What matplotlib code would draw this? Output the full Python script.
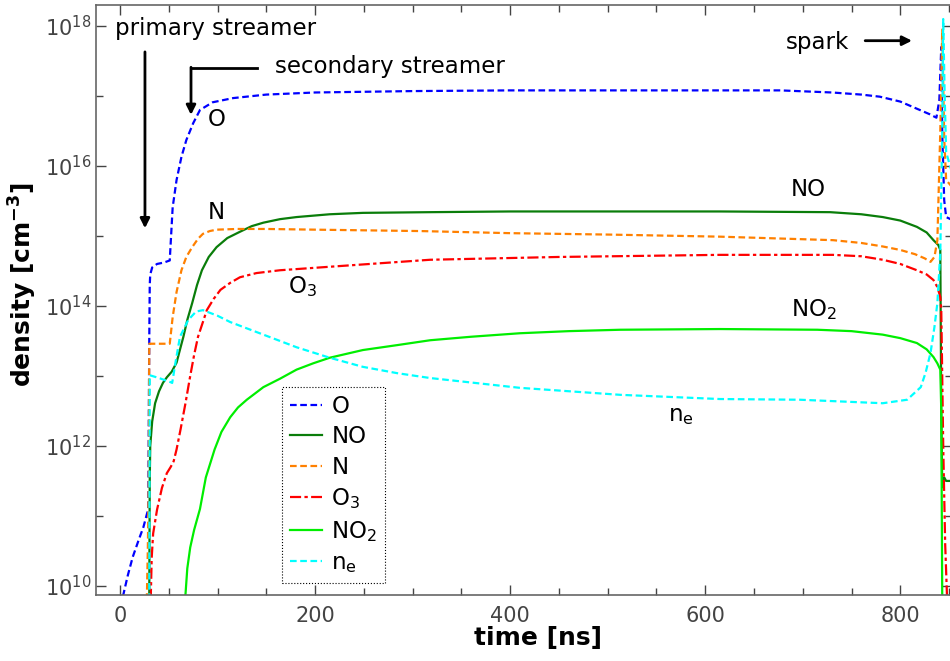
import numpy as np
import matplotlib
matplotlib.use('Agg')
import matplotlib.pyplot as plt
from matplotlib.ticker import FixedLocator, NullFormatter

# densites : temps en ns, log10(densite en cm^-3)
t_O = [3, 8, 13, 19, 24, 29, 30, 30.5, 31, 33, 38, 45, 51, 54, 58, 63, 68, 75, 82, 95, 116, 150, 200,
       300, 400, 500, 600, 677, 730, 760, 779, 800, 820, 830, 837, 840, 842, 843, 845, 847, 853]
log_O = [9.85, 10.15, 10.41, 10.65, 10.84, 11.1, 13.5, 14.3, 14.45, 14.55, 14.6, 14.62, 14.65, 15.41, 15.8,
         16.13, 16.37, 16.61, 16.8, 16.91, 16.97, 17.02, 17.05, 17.07, 17.08, 17.08, 17.08, 17.08, 17.05,
         17.02, 16.99, 16.92, 16.8, 16.74, 16.69, 16.94, 17.7, 16.47, 15.51, 15.27, 15.23]

t_NO = [30, 30.5, 31, 33, 36, 40, 44, 48, 53, 58, 61, 65, 69, 74, 79, 84, 91, 99, 110, 123, 135, 147,
        164, 181, 215, 249, 318, 400, 500, 615, 728, 760, 782, 800, 817, 827, 834, 839, 841, 842, 843,
        845, 847, 853]
log_NO = [9.8, 11.5, 12.0, 12.35, 12.61, 12.78, 12.9, 12.98, 13.06, 13.19, 13.35, 13.56, 13.8, 14.04,
          14.3, 14.51, 14.7, 14.84, 14.97, 15.06, 15.14, 15.19, 15.24, 15.27, 15.31, 15.33, 15.34, 15.35,
          15.35, 15.35, 15.34, 15.31, 15.27, 15.22, 15.13, 15.05, 14.94, 14.87, 14.8, 12.5, 11.41, 11.55,
          11.5, 11.5]

t_N = [27.5, 28.5, 29.5, 30, 40, 51, 54, 58, 63, 68, 74, 80, 85, 92, 99, 120, 150, 200, 308, 400, 500,
       615, 731, 760, 782, 800, 815, 825, 831, 835, 838, 841, 843, 845, 847, 853]
log_N = [9.8, 10.5, 11.5, 13.46, 13.46, 13.46, 13.84, 14.2, 14.51, 14.7, 14.84, 14.96, 15.03, 15.07,
         15.09, 15.1, 15.1, 15.09, 15.07, 15.04, 15.02, 14.99, 14.94, 14.9, 14.85, 14.8, 14.74, 14.68,
         14.63, 14.7, 14.94, 16.5, 17.95, 16.4, 15.8, 15.7]

t_O3 = [31.5, 32.5, 34, 38, 43, 48, 52, 55, 58, 62, 67, 72, 76, 80, 85, 89, 96, 103, 113, 123, 140, 164,
        215, 318, 450, 615, 731, 760, 782, 800, 817, 827, 834, 838, 841, 842, 844, 846, 848]
log_O3 = [9.8, 10.4, 10.75, 11.09, 11.4, 11.61, 11.7, 11.78, 11.95, 12.23, 12.6, 13.0, 13.3, 13.56, 13.77,
          13.94, 14.1, 14.23, 14.33, 14.41, 14.47, 14.51, 14.56, 14.66, 14.7, 14.73, 14.73, 14.71, 14.66,
          14.6, 14.51, 14.45, 14.37, 14.27, 14.13, 13.94, 12.0, 10.6, 9.8]

t_NO2 = [67, 69, 72, 76, 82, 88, 97, 104, 113, 121, 130, 147, 164, 181, 198, 215, 249, 284, 318, 360, 410,
         460, 513, 615, 715, 750, 782, 800, 817, 827, 834, 838, 841, 842, 843]
log_NO2 = [9.85, 10.25, 10.55, 10.8, 11.1, 11.55, 11.95, 12.2, 12.41, 12.55, 12.66, 12.84, 12.96, 13.09,
           13.18, 13.26, 13.37, 13.44, 13.51, 13.56, 13.61, 13.64, 13.66, 13.67, 13.66, 13.64, 13.59,
           13.54, 13.47, 13.38, 13.27, 13.18, 13.09, 12.5, 9.8]

t_ne = [30, 30.5, 40, 52, 53.5, 57, 61.5, 70, 78, 85, 100, 113, 147, 181, 215, 249, 284, 318, 410, 513,
        615, 697, 782, 807, 821, 826, 831, 835, 838, 841, 843, 844, 845.5, 847, 853]
log_ne = [9.8, 13.01, 12.97, 12.91, 12.9, 13.2, 13.56, 13.8, 13.92, 13.94, 13.86, 13.77, 13.59, 13.41,
          13.26, 13.13, 13.04, 12.97, 12.83, 12.73, 12.67, 12.66, 12.61, 12.66, 12.84, 13.05, 13.33, 13.7,
          14.04, 14.76, 16.5, 18.1, 17.0, 16.2, 15.9]

# legende : (label, temps, log densite, couleur, style)
series = [
    ('O', t_O, log_O, '#0000ff', (0, (3, 1.6))),
    ('NO', t_NO, log_NO, '#0a7d0a', '-'),
    ('N', t_N, log_N, '#ff8000', (0, (3, 1.6))),
    ('O$_3$', t_O3, log_O3, '#ff0000', (0, (5, 1.5, 1.5, 1.5))),
    ('NO$_2$', t_NO2, log_NO2, '#00ee00', '-'),
    ('n$_{\\rm e}$', t_ne, log_ne, '#00ffff', (0, (3, 1.6))),
]

fig = plt.figure(figsize=(9.5, 6.61), dpi=100)
ax = fig.add_axes([96 / 950, 66 / 661, 856 / 950, 590 / 661])

for label, t, logn, color, ls in series:
    ax.plot(t, 10 ** np.array(logn), color=color, ls=ls, lw=1.6, label=label)

ax.set_yscale('log')
ax.set_xlim(-24.6, 853)
ax.set_ylim(10 ** 9.87, 10 ** 18.3)

ax.xaxis.set_major_locator(FixedLocator([0, 200, 400, 600, 800]))
ax.xaxis.set_minor_locator(FixedLocator(np.arange(-50, 900, 50)))
ax.yaxis.set_major_locator(FixedLocator([1e10, 1e12, 1e14, 1e16, 1e18]))
ax.yaxis.set_minor_locator(FixedLocator([1e11, 1e13, 1e15, 1e17]))
ax.yaxis.set_minor_formatter(NullFormatter())

ax.tick_params(which='both', direction='in', top=True, right=True, colors='#444444',
               labelsize=15, width=1)
ax.tick_params(which='major', length=7)
ax.tick_params(which='minor', length=5)
ax.tick_params(axis='x', pad=8)
for s in ax.spines.values():
    s.set_color('#666666')
    s.set_linewidth(1.2)

ax.set_xlabel('time [ns]', fontsize=18, fontweight='bold')
ax.xaxis.set_label_coords(0.516, -0.053)
ax.set_ylabel('density [cm$^{\\mathbf{-3}}$]', fontsize=18, fontweight='bold')
ax.yaxis.set_label_coords(-0.067, 0.525)

# etiquettes sur les courbes
fs = 16.5
ax.text(99, 10 ** 16.66, 'O', fontsize=fs, ha='center', va='center')
ax.text(99, 10 ** 15.34, 'N', fontsize=fs, ha='center', va='center')
ax.text(706, 10 ** 15.66, 'NO', fontsize=fs, ha='center', va='center')
ax.text(187, 10 ** 14.28, 'O$_3$', fontsize=fs, ha='center', va='center')
ax.text(711, 10 ** 13.95, 'NO$_2$', fontsize=fs, ha='center', va='center')
ax.text(575, 10 ** 12.44, 'n$_{\\rm e}$', fontsize=fs, ha='center', va='center')

# annotations
arrow = dict(arrowstyle='-|>', lw=2, color='k', mutation_scale=14, shrinkA=0, shrinkB=0)
ax.text(-5, 10 ** 17.97, 'primary streamer', fontsize=fs, ha='left', va='center')
ax.annotate('', xy=(25.6, 10 ** 15.11), xytext=(25.6, 10 ** 17.63), arrowprops=arrow)
ax.text(159, 10 ** 17.42, 'secondary streamer', fontsize=fs, ha='left', va='center')
ax.plot([140.5, 72.8], [10 ** 17.4, 10 ** 17.4], color='k', lw=2)
ax.annotate('', xy=(72.8, 10 ** 16.73), xytext=(72.8, 10 ** 17.41), arrowprops=arrow)
ax.text(683, 10 ** 17.77, 'spark', fontsize=fs, ha='left', va='center')
ax.annotate('', xy=(812, 10 ** 17.79), xytext=(764, 10 ** 17.79), arrowprops=arrow)

leg = ax.legend(loc='lower left', bbox_to_anchor=(0.2175, 0.02), borderaxespad=0, fontsize=fs,
                fancybox=False, edgecolor='k', framealpha=1, handlelength=1.4, handletextpad=0.4,
                labelspacing=0.33, borderpad=0.35)
leg.get_frame().set_linestyle(':')
leg.get_frame().set_linewidth(0.8)

fig.savefig('out.png', dpi=100)
